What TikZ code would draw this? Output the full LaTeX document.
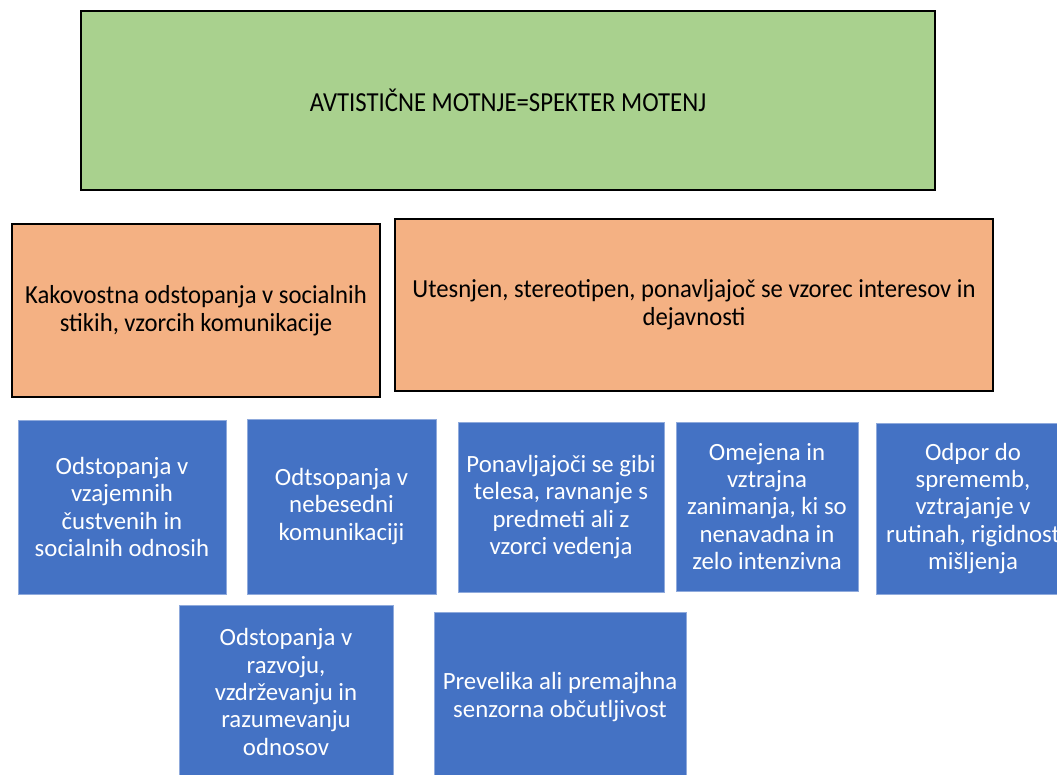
\documentclass[tikz,border=0pt]{standalone}
\usepackage{fontspec}
\setmainfont{Carlito}
\newfontfamily\greenfont{Carlito}[FakeStretch=0.9]
\newfontfamily\orangefont{Carlito}[FakeStretch=0.95]
\definecolor{greenc}{HTML}{A9D18E}
\definecolor{orangec}{HTML}{F4B183}
\definecolor{bluec}{HTML}{4472C4}
\definecolor{blueedge}{HTML}{8FAADC}
\begin{document}
\begin{tikzpicture}[x=1pt,y=-1pt,
  mainbox/.style={draw=black, line width=2.5pt, fill=greenc, inner sep=0pt, align=center, font=\greenfont\fontsize{27.5}{30}\selectfont},
  catbox/.style={draw=black, line width=2.5pt, fill=orangec, inner sep=0pt, align=center, font=\orangefont\fontsize{26}{28}\selectfont},
  itembox/.style={draw=blueedge, line width=0.8pt, fill=bluec, text=white, inner sep=0pt, align=center, font=\fontsize{24.8}{27.3}\selectfont}]
\useasboundingbox (0,0) rectangle (1057,774);
\node[mainbox, minimum width=854, minimum height=179] (main) at (508,100.5) {AVTISTIČNE MOTNJE=SPEKTER MOTENJ};
\node[catbox, minimum width=368, minimum height=173] (social) at (196,310.5) {Kakovostna odstopanja v socialnih\\stikih, vzorcih komunikacije};
\node[catbox, minimum width=598, minimum height=172] (interest) at (694,305) {Utesnjen, stereotipen, ponavljajoč se vzorec interesov in\\dejavnosti};
\node[itembox, minimum width=208, minimum height=174] (b1) at (122,507) {Odstopanja v\\vzajemnih\\čustvenih in\\socialnih odnosih};
\node[itembox, minimum width=189, minimum height=175] (b2) at (341.5,506.5) {Odtsopanja v\\nebesedni\\komunikaciji};
\node[itembox, minimum width=206, minimum height=170] (b3) at (561,507) {Ponavljajoči se gibi\\telesa, ravnanje s\\predmeti ali z\\vzorci vedenja};
\node[itembox, minimum width=182, minimum height=169] (b4) at (767,506.5) {Omejena in\\vztrajna\\zanimanja, ki so\\nenavadna in\\zelo intenzivna};
\node[itembox, minimum width=194, minimum height=171] (b5) at (973,508.5) {Odpor do\\sprememb,\\vztrajanje v\\rutinah, rigidnost\\mišljenja};
\node[itembox, minimum width=214, minimum height=173] (b6) at (286,692) {Odstopanja v\\razvoju,\\vzdrževanju in\\razumevanju\\odnosov};
\node[itembox, minimum width=252, minimum height=170] (b7) at (560,697) {Prevelika ali premajhna\\senzorna občutljivost};
\end{tikzpicture}
\end{document}
